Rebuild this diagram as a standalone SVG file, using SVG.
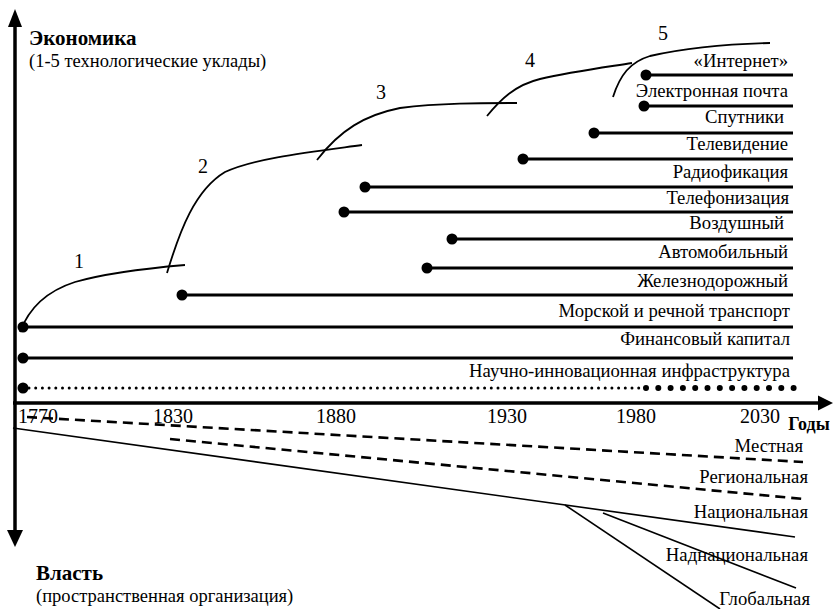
<svg xmlns="http://www.w3.org/2000/svg" width="833" height="609" viewBox="0 0 833 609">
<style>
.t{font-family:'Liberation Serif','Times New Roman',serif;fill:#000}
.lbl{font-family:'Liberation Serif','Times New Roman',serif;font-size:18.7px;text-anchor:end}
.yr{font-family:'Liberation Serif','Times New Roman',serif;font-size:20px;text-anchor:middle}
.b{font-weight:bold}
.ln{stroke:#000;stroke-width:3;fill:none}
.thin{stroke:#000;stroke-width:1.6;fill:none}
.dash{stroke:#000;stroke-width:2.6;fill:none;stroke-dasharray:10 6}
.cv{stroke:#000;stroke-width:1.8;fill:none}
.ax{stroke:#000;stroke-width:3.5;fill:none}
</style>
<rect width="833" height="609" fill="#fff"/>
<g id="axes">
<line class="ax" x1="15" y1="24" x2="15" y2="532"/>
<polygon points="15,9 8,27 22,27"/>
<polygon points="15,547 7,530 23,530"/>
<line class="ax" x1="13" y1="403" x2="820" y2="403"/>
<polygon points="833,403 818,395.5 818,410.5"/>
<text x="29" y="45" class="t b" font-size="21">Экономика</text>
<text x="29" y="67" class="t" font-size="18.5">(1-5 технологические уклады)</text>
<text x="36" y="580" class="t b" font-size="21">Власть</text>
<text x="36" y="602" class="t" font-size="18.5">(пространственная организация)</text>
<text x="809" y="430" class="t b" font-size="18" text-anchor="middle">Годы</text>
<text x="38" y="423" class="yr">1770</text>
<text x="173" y="423" class="yr">1830</text>
<text x="336" y="423" class="yr">1880</text>
<text x="507" y="423" class="yr">1930</text>
<text x="636" y="423" class="yr">1980</text>
<text x="760" y="423" class="yr">2030</text>
</g>
<g id="waves">
<g id="wave1"><path class="cv" d="M20,332 C30,305 50,290 75,282 C110,272 150,268 185,265"/><text x="79" y="268" class="yr">1</text></g>
<g id="wave2"><path class="cv" d="M167,273 C180,230 195,190 225,172 C255,158 310,152 362,145"/><text x="203" y="173" class="yr">2</text></g>
<g id="wave3"><path class="cv" d="M317,160 C340,130 365,115 400,108 C440,103 480,103 517,103"/><text x="381" y="99" class="yr">3</text></g>
<g id="wave4"><path class="cv" d="M487,116 C500,100 515,85 540,79 C570,72 600,68 632,63"/><text x="530" y="67" class="yr">4</text></g>
<g id="wave5"><path class="cv" d="M613,97 C620,75 630,62 650,56 C690,47 730,44 770,43"/><text x="663" y="40" class="yr">5</text></g>
</g>
<g id="internet"><line class="ln" x1="646" y1="75" x2="793" y2="75"/><circle cx="646" cy="75" r="5.5"/><text class="lbl" x="788" y="67">«Интернет»</text></g>
<g id="email"><line class="ln" x1="644" y1="106" x2="793" y2="106"/><circle cx="644" cy="106" r="5.5"/><text class="lbl" x="788" y="97" font-size="19.5">Электронная почта</text></g>
<g id="sputniki"><line class="ln" x1="594" y1="133" x2="793" y2="133"/><circle cx="594" cy="133" r="5.5"/><text class="lbl" x="784" y="123">Спутники</text></g>
<g id="tv"><line class="ln" x1="523" y1="159" x2="793" y2="159"/><circle cx="523" cy="159" r="5.5"/><text class="lbl" x="788" y="150">Телевидение</text></g>
<g id="radio"><line class="ln" x1="365" y1="187" x2="793" y2="187"/><circle cx="365" cy="187" r="5.5"/><text class="lbl" x="788" y="178">Радиофикация</text></g>
<g id="phone"><line class="ln" x1="344" y1="212" x2="793" y2="212"/><circle cx="344" cy="212" r="5.5"/><text class="lbl" x="789" y="204">Телефонизация</text></g>
<g id="air"><line class="ln" x1="452" y1="239" x2="793" y2="239"/><circle cx="452" cy="239" r="5.5"/><text class="lbl" x="784" y="229">Воздушный</text></g>
<g id="auto"><line class="ln" x1="427" y1="268" x2="793" y2="268"/><circle cx="427" cy="268" r="5.5"/><text class="lbl" x="788" y="258">Автомобильный</text></g>
<g id="rail"><line class="ln" x1="182" y1="295" x2="793" y2="295"/><circle cx="182" cy="295" r="5.5"/><text class="lbl" x="788" y="287">Железнодорожный</text></g>
<g id="sea"><line class="ln" x1="23" y1="327" x2="793" y2="327"/><circle cx="23" cy="327" r="5.5"/><text class="lbl" x="790" y="317">Морской и речной транспорт</text></g>
<g id="finance"><line class="ln" x1="23" y1="358" x2="793" y2="358"/><circle cx="23" cy="358" r="5.5"/><text class="lbl" x="790" y="345">Финансовый капитал</text></g>
<g id="science">
<circle cx="23" cy="388" r="5.5"/>
<line x1="29" y1="388" x2="640" y2="388" stroke="#000" stroke-width="3" stroke-linecap="round" stroke-dasharray="0 6.7"/>
<line x1="646" y1="388" x2="794" y2="388" stroke="#000" stroke-width="6" stroke-linecap="round" stroke-dasharray="0 12.3"/>
<text class="lbl" x="790" y="377">Научно-инновационная инфраструктура</text>
</g>
<g id="connectors">
<line class="dash" x1="27" y1="417" x2="803" y2="462"/>
<line class="dash" x1="170" y1="439" x2="803" y2="499"/>
<line class="thin" x1="13" y1="428" x2="795" y2="537"/>
<line class="thin" x1="565" y1="505" x2="720" y2="609"/>
<line class="thin" x1="603" y1="513" x2="796" y2="588"/>
</g>
<g id="levels">
<text class="lbl" x="803" y="452">Местная</text>
<text class="lbl" x="808" y="483">Региональная</text>
<text class="lbl" x="808" y="518">Национальная</text>
<text class="lbl" x="808" y="561">Наднациональная</text>
<text class="lbl" x="810" y="605">Глобальная</text>
</g>
</svg>
